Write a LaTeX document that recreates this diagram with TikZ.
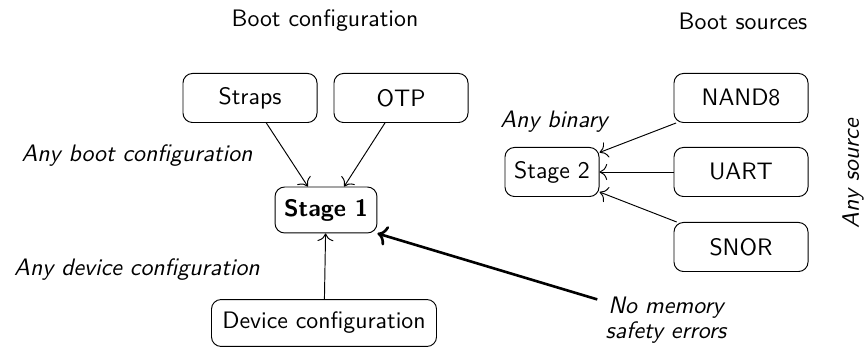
\documentclass[tikz,border=0pt]{standalone}
\usetikzlibrary{arrows.meta}
\begin{document}
\begin{tikzpicture}[x=0.42pt,y=-0.42pt, font=\sffamily,
  box/.style={draw, rounded corners=4pt, minimum width=56.3pt, minimum height=20.6pt, inner sep=3pt},
  lbl/.style={font=\sffamily\itshape},
  arr/.style={-{To[scale=1.3]}, line width=0.4pt},
  bigarr/.style={-{To}, line width=1.1pt}]
\useasboundingbox (0,0) rectangle (865,348);
\node (bootcfg) at (325,21) {Boot configuration};
\node (bootsrc) at (743,21) {Boot sources};
\node[box] (straps) at (250,98) {Straps};
\node[box] (otp) at (401,98) {OTP};
\node[box, minimum width=42.8pt, minimum height=19.3pt, font=\sffamily\bfseries] (stage1) at (326,210) {Stage 1};
\node[box, minimum width=94.5pt, minimum height=19.7pt] (devcfg) at (324,323) {Device configuration};
\node[box, minimum width=39.5pt] (stage2) at (552,172) {Stage 2};
\node[box] (nand) at (741,98) {NAND8};
\node[box] (uart) at (741,172) {UART};
\node[box] (snor) at (741,247) {SNOR};
\node[lbl] (anyboot) at (137,156) {Any boot configuration};
\node[lbl] (anydev) at (137,270) {Any device configuration};
\node[lbl] (anybin) at (554,122) {Any binary};
\node[lbl, rotate=90] (anysrc) at (853,174) {Any source};
\node[lbl, align=center] (nomem) at (666,320) {No memory\\[-1.5pt] safety errors};
\draw[arr] (straps) -- ([xshift=-7.6pt]stage1.north);
\draw[arr] (otp) -- ([xshift=7.6pt]stage1.north);
\draw[arr] (devcfg) -- (stage1);
\draw[arr] (nand) -- ([yshift=8.2pt]stage2.east);
\draw[arr] (uart) -- (stage2);
\draw[arr] (snor) -- ([yshift=-8.4pt]stage2.east);
\draw[bigarr] (nomem) -- (stage1.south east);
\end{tikzpicture}
\end{document}
